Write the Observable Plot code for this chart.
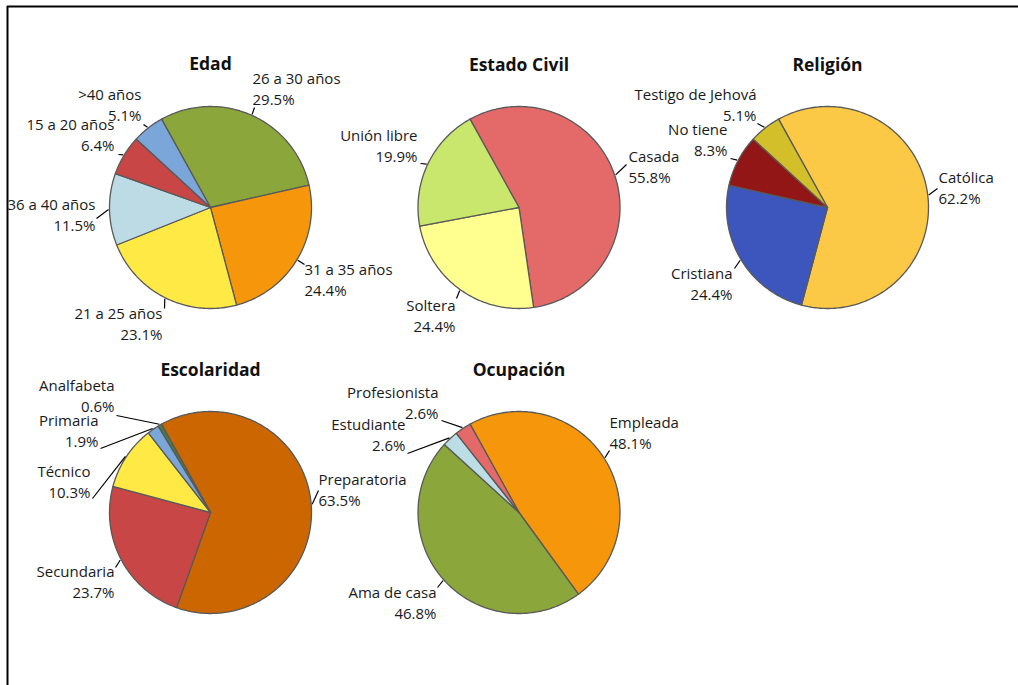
<!DOCTYPE html>
<html>
<head>
<meta charset="utf-8">
<script src="https://cdn.jsdelivr.net/npm/d3@7"></script>
<script src="https://cdn.jsdelivr.net/npm/@observablehq/plot@0.6"></script>
<style>
  html, body { margin: 0; padding: 0; background: #ffffff; }
  #chart svg { display: block; }
</style>
</head>
<body>
<div id="chart"></div>
<script>
// ---- Data: one small set of arrays per pie (slices listed clockwise) ----
const edadTitle = "Edad";
const edadCategories = ["26 a 30 años", "31 a 35 años", "21 a 25 años", "36 a 40 años", "15 a 20 años", ">40 años"];
const edadValues = [29.5, 24.4, 23.1, 11.5, 6.4, 5.1];
const edadColors = ["#8ba63b", "#f5960b", "#ffe945", "#bddbe5", "#c84646", "#7ba6d9"];

const civilTitle = "Estado Civil";
const civilCategories = ["Casada", "Soltera", "Unión libre"];
const civilValues = [55.8, 24.4, 19.9];
const civilColors = ["#e46a6a", "#ffff90", "#c9e76c"];

const religionTitle = "Religión";
const religionCategories = ["Católica", "Cristiana", "No tiene", "Testigo de Jehová"];
const religionValues = [62.2, 24.4, 8.3, 5.1];
const religionColors = ["#fbc945", "#3c56be", "#921616", "#d2bf29"];

const escolaridadTitle = "Escolaridad";
const escolaridadCategories = ["Preparatoria", "Secundaria", "Técnico", "Primaria", "Analfabeta"];
const escolaridadValues = [63.5, 23.7, 10.3, 1.9, 0.6];
const escolaridadColors = ["#cc6600", "#c84646", "#ffe945", "#7ba6d9", "#4a7a45"];

const ocupacionTitle = "Ocupación";
const ocupacionCategories = ["Empleada", "Ama de casa", "Estudiante", "Profesionista"];
const ocupacionValues = [48.1, 46.8, 2.6, 2.6];
const ocupacionColors = ["#f5960b", "#8ba63b", "#bcdce6", "#e46a6a"];

// ---- Layout ----
const W = 1018, H = 685;
const START_ANGLE = -29;   // first slice edge, degrees clockwise from 12 o'clock
const R = 101;

// pie centres, title centre and label placements (label anchor + leader end)
const pies = [
  {title: edadTitle, categories: edadCategories, values: edadValues, colors: edadColors,
   cx: 210, cy: 207, ty: 64,
   labels: [
     {anchor: "start", tx: 252, ty: 87.5, lx: 254, ly: 107},
     {anchor: "start", tx: 304, ty: 278.5, lx: 304, ly: 264},
     {anchor: "end", tx: 162, ty: 322.5, lx: 164, ly: 308},
     {anchor: "end", tx: 95, ty: 213, lx: 96, ly: 218},
     {anchor: "end", tx: 114, ty: 133.5, lx: 118, ly: 154},
     {anchor: "end", tx: 141, ty: 103.5, lx: 143, ly: 124}
   ]},
  {title: civilTitle, categories: civilCategories, values: civilValues, colors: civilColors,
   cx: 518.5, cy: 207, ty: 65,
   labels: [
     {anchor: "start", tx: 628, ty: 165.5, lx: 626, ly: 164},
     {anchor: "end", tx: 455, ty: 314, lx: 456, ly: 298},
     {anchor: "end", tx: 417, ty: 144, lx: 420, ly: 163}
   ]},
  {title: religionTitle, categories: religionCategories, values: religionValues, colors: religionColors,
   cx: 827, cy: 207, ty: 65,
   labels: [
     {anchor: "start", tx: 938, ty: 186.5, lx: 937, ly: 188},
     {anchor: "end", tx: 732, ty: 282.5, lx: 734, ly: 268},
     {anchor: "end", tx: 727, ty: 138, lx: 730, ly: 158},
     {anchor: "end", tx: 756, ty: 103.5, lx: 757, ly: 123}
   ]},
  {title: escolaridadTitle, categories: escolaridadCategories, values: escolaridadValues, colors: escolaridadColors,
   cx: 210, cy: 512, ty: 370,
   labels: [
     {anchor: "start", tx: 318, ty: 488.5, lx: 318, ly: 490},
     {anchor: "end", tx: 114, ty: 580, lx: 115, ly: 567},
     {anchor: "end", tx: 90, ty: 480.5, lx: 92, ly: 498},
     {anchor: "end", tx: 98, ty: 429.5, lx: 100, ly: 448},
     {anchor: "end", tx: 114, ty: 394, lx: 116, ly: 415}
   ]},
  {title: ocupacionTitle, categories: ocupacionCategories, values: ocupacionValues, colors: ocupacionColors,
   cx: 518.5, cy: 512, ty: 370,
   labels: [
     {anchor: "start", tx: 609, ty: 431.5, lx: 609, ly: 450},
     {anchor: "end", tx: 436, ty: 601.5, lx: 437, ly: 587},
     {anchor: "end", tx: 405, ty: 433, lx: 407, ly: 453},
     {anchor: "end", tx: 438, ty: 401, lx: 441, ly: 420}
   ]}
];

// ---- Geometry: slice angles from the values, outlines as closed polygons ----
const rad = (deg) => deg * Math.PI / 180;
const polar = (cx, cy, r, deg) => [cx + r * Math.sin(rad(deg)), cy - r * Math.cos(rad(deg))];

const slicePoints = [];
const labelRows = [];
const titleRows = [];

pies.forEach((p, pi) => {
  const total = d3.sum(p.values);
  let a = START_ANGLE;
  titleRows.push({x: p.cx, y: p.ty, text: p.title});
  p.values.forEach((v, i) => {
    const a0 = a, a1 = a + v / total * 360;
    a = a1;
    const id = `${pi}-${i}`;
    const pts = [[p.cx, p.cy]];
    const steps = Math.max(2, Math.ceil(a1 - a0));
    for (let k = 0; k <= steps; k++) pts.push(polar(p.cx, p.cy, R, a0 + (a1 - a0) * k / steps));
    pts.push([p.cx, p.cy]);
    pts.forEach(([x, y]) => slicePoints.push({id, x, y, color: p.colors[i]}));

    const lab = p.labels[i];
    const [ex, ey] = polar(p.cx, p.cy, R + 1, (a0 + a1) / 2);
    labelRows.push({
      anchor: lab.anchor, tx: lab.tx, ty: lab.ty,
      x1: ex, y1: ey, x2: lab.lx, y2: lab.ly,
      text: `${p.categories[i]}\n${v.toFixed(1)}%`
    });
  });
});

const textStyle = {fill: "#1a1a1a", fontSize: 15, lineHeight: 1.4};

const chart = Plot.plot({
  width: W,
  height: H,
  margin: 0,
  style: {fontFamily: "'Open Sans', 'Noto Sans', sans-serif", background: "#ffffff", overflow: "visible"},
  x: {domain: [0, W], range: [0, W], axis: null},
  y: {domain: [0, H], range: [0, H], axis: null},
  color: {type: "identity"},
  marks: [
    // outer frame (top and left edges)
    Plot.ruleY([6], {x1: 7, x2: W, stroke: "#000", strokeWidth: 2}),
    Plot.ruleX([7], {y1: 6, y2: H, stroke: "#000", strokeWidth: 2}),
    // slices
    Plot.line(slicePoints, {
      x: "x", y: "y", z: "id", fill: "color",
      stroke: "#595959", strokeWidth: 1.3, strokeLinejoin: "round", curve: "linear"
    }),
    // leader lines
    Plot.link(labelRows, {x1: "x1", y1: "y1", x2: "x2", y2: "y2", stroke: "#000", strokeWidth: 1.2}),
    // data labels
    Plot.text(labelRows.filter(d => d.anchor === "start"), {
      x: "tx", y: "ty", text: "text", textAnchor: "start", ...textStyle
    }),
    Plot.text(labelRows.filter(d => d.anchor === "end"), {
      x: "tx", y: "ty", text: "text", textAnchor: "end", ...textStyle
    }),
    // pie titles
    Plot.text(titleRows, {x: "x", y: "y", text: "text", fontSize: 17.5, fontWeight: "bold", fill: "#111"})
  ]
});

document.getElementById("chart").append(chart);
</script>
</body>
</html>
